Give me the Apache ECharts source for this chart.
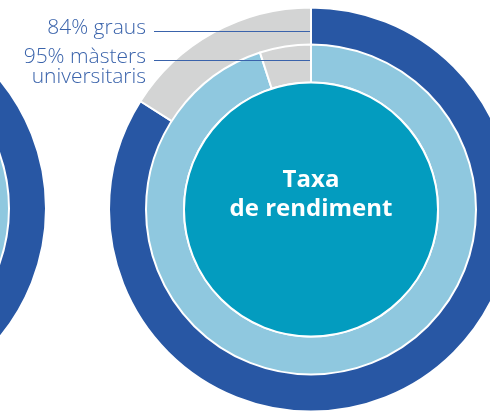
<!DOCTYPE html>
<html>
<head>
<meta charset="utf-8">
<script src="https://cdn.jsdelivr.net/npm/echarts@6/dist/echarts.min.js"></script>
<style>
  html, body { margin: 0; padding: 0; background: #fff; }
  #chart { width: 490px; height: 411px; }
</style>
</head>
<body>
<div id="chart"></div>
<script>
// dades
const graus = [84, 16];     // graus: rendiment / resta
const masters = [95, 5];    // màsters universitaris: rendiment / resta
const esquerraGraus = [88, 12];   // anell tallat a l'esquerra (valors estimats)
const esquerraMasters = [93, 7];
const etiquetes = ["84% graus", "95% màsters\nuniversitaris"];
const titolCentre = "Taxa\nde rendiment";

const BLAU = "#2857a4";
const BLAU_CLAR = "#8fc8df";
const GRIS = "#d3d4d4";
const TURQUESA = "#039cbf";
const TEXT = "#3a63ab";

const chart = echarts.init(document.getElementById("chart"));

function anell(center, radius, vals, color) {
  return {
    type: "pie",
    center: center,
    radius: radius,
    startAngle: 90,
    clockwise: true,
    silent: true,
    label: { show: false },
    labelLine: { show: false },
    itemStyle: { borderColor: "#fff", borderWidth: 2 },
    data: [
      { value: vals[0], itemStyle: { color: color } },
      { value: vals[1], itemStyle: { color: GRIS } },
    ],
  };
}

function centre(center, text) {
  return {
    type: "pie",
    center: center,
    radius: [0, 127],
    silent: true,
    itemStyle: { borderColor: "#fff", borderWidth: 2, color: TURQUESA },
    label: {
      show: text != null,
      position: "center",
      formatter: text || "",
      offset: [0, -15],
      color: "#fff",
      fontFamily: "Open Sans",
      fontWeight: "bold",
      fontSize: 24,
      lineHeight: 29,
    },
    labelLine: { show: false },
    data: [{ value: 1 }],
  };
}

const C = [311, 209.5];
const L = [-156, 208.5];

chart.setOption({
  animation: false,
  series: [
    anell(L, [164, 202], esquerraGraus, BLAU),
    anell(L, [127, 165], esquerraMasters, BLAU_CLAR),
    centre(L, null),
    anell(C, [164, 202], graus, BLAU),
    anell(C, [127, 165], masters, BLAU_CLAR),
    centre(C, titolCentre),
  ],
  graphic: [
    {
      type: "text", right: 490 - 146, top: 18, z: 10,
      style: { text: etiquetes[0], fill: TEXT, font: "300 21px 'Open Sans'", textAlign: "right" },
    },
    {
      type: "text", right: 490 - 146, top: 47, z: 10,
      style: { text: etiquetes[1], fill: TEXT, font: "300 21px 'Open Sans'", textAlign: "right", lineHeight: 20 },
    },
    {
      type: "line", z: 10,
      shape: { x1: 154, y1: 31.5, x2: 310, y2: 31.5 },
      style: { stroke: TEXT, lineWidth: 1.2 },
    },
    {
      type: "line", z: 10,
      shape: { x1: 154, y1: 60.5, x2: 310, y2: 60.5 },
      style: { stroke: TEXT, lineWidth: 1.2 },
    },
  ],
});
</script>
</body>
</html>
